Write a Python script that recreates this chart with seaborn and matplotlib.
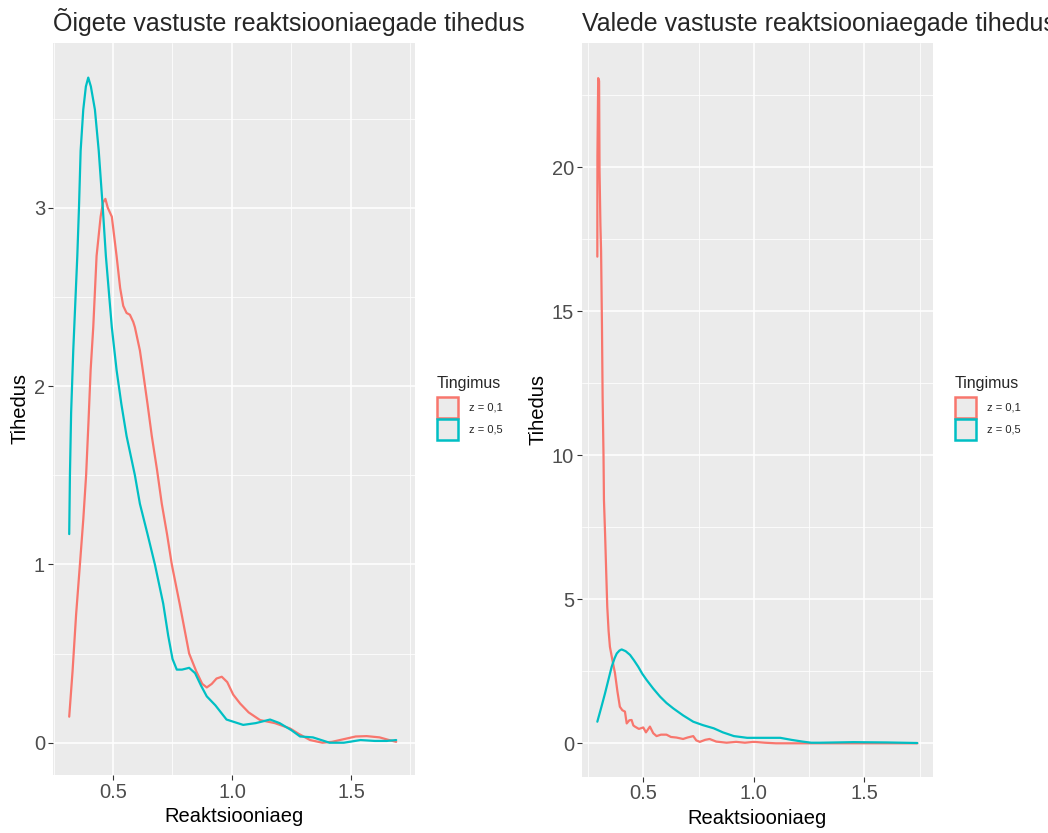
import numpy as np
import pandas as pd
import seaborn as sns
import matplotlib
matplotlib.use("Agg")
import matplotlib.pyplot as plt
from matplotlib.patches import Patch
from matplotlib.transforms import Bbox, TransformedBbox
from matplotlib.ticker import MultipleLocator

# ---- data ----
conditions = ["z = 0,1", "z = 0,5"]
colors = ["#F8766D", "#00BFC4"]

# Left panel: correct answers
ok_z01_x = [0.316, 0.33, 0.345, 0.361, 0.375, 0.387, 0.397, 0.406, 0.417, 0.431, 0.448, 0.458, 0.468,
            0.478, 0.495, 0.515, 0.53, 0.543, 0.557, 0.571, 0.585, 0.592, 0.613, 0.625, 0.645, 0.663,
            0.685, 0.705, 0.727, 0.747, 0.765, 0.78, 0.8, 0.82, 0.85, 0.875, 0.894, 0.915, 0.935,
            0.957, 0.98, 1.005, 1.034, 1.07, 1.118, 1.18, 1.244, 1.28, 1.328, 1.38, 1.42, 1.47, 1.52,
            1.566, 1.62, 1.66, 1.69]
ok_z01_y = [0.146, 0.4, 0.72, 1.0, 1.25, 1.5, 1.8, 2.09, 2.33, 2.73, 2.95, 3.03, 3.05,
            3.0, 2.95, 2.73, 2.55, 2.45, 2.41, 2.4, 2.36, 2.33, 2.2, 2.09, 1.9, 1.72,
            1.53, 1.34, 1.17, 1.0, 0.88, 0.78, 0.64, 0.5, 0.4, 0.33, 0.31, 0.33, 0.36,
            0.37, 0.34, 0.27, 0.22, 0.17, 0.127, 0.11, 0.08, 0.05, 0.015, 0.0, 0.005, 0.02, 0.035,
            0.037, 0.03, 0.015, 0.005]
ok_z05_x = [0.316, 0.319, 0.324, 0.333, 0.35, 0.357, 0.364, 0.375, 0.386, 0.396, 0.407, 0.424, 0.44,
            0.457, 0.47, 0.495, 0.515, 0.535, 0.557, 0.592, 0.613, 0.645, 0.676, 0.711, 0.732, 0.75,
            0.768, 0.79, 0.82, 0.845, 0.87, 0.894, 0.93, 0.977, 1.047, 1.1, 1.16, 1.2, 1.25, 1.286,
            1.34, 1.41, 1.47, 1.54, 1.6, 1.65, 1.69]
ok_z05_y = [1.17, 1.5, 1.85, 2.2, 2.73, 3.0, 3.32, 3.55, 3.68, 3.73, 3.68, 3.55, 3.32,
            3.0, 2.73, 2.33, 2.09, 1.9, 1.72, 1.5, 1.34, 1.17, 1.0, 0.78, 0.6, 0.47,
            0.41, 0.41, 0.42, 0.39, 0.32, 0.26, 0.21, 0.13, 0.1, 0.11, 0.13, 0.11, 0.07, 0.035,
            0.03, 0.0, 0.0, 0.015, 0.01, 0.01, 0.015]

# Right panel: wrong answers
bad_z01_x = [0.292, 0.2925, 0.296, 0.300, 0.302, 0.306, 0.309, 0.313, 0.316, 0.320, 0.322, 0.327,
             0.332, 0.337, 0.343, 0.349, 0.36, 0.372, 0.383, 0.394, 0.405, 0.417, 0.425, 0.437,
             0.447, 0.455, 0.462, 0.48, 0.5, 0.512, 0.53, 0.545, 0.56, 0.58, 0.605, 0.625, 0.65,
             0.68, 0.7, 0.726, 0.74, 0.756, 0.78, 0.8, 0.83, 0.877, 0.92, 0.96, 1.0, 1.05, 1.1,
             1.15, 1.3, 1.5, 1.74]
bad_z01_y = [16.9, 20.4, 23.1, 23.0, 19.9, 18.0, 17.1, 14.5, 12.0, 10.0, 8.45, 7.3,
             6.0, 4.74, 3.9, 3.35, 2.9, 2.43, 1.8, 1.27, 1.15, 1.1, 0.69, 0.8,
             0.81, 0.62, 0.58, 0.5, 0.55, 0.38, 0.58, 0.35, 0.25, 0.3, 0.3, 0.22, 0.2,
             0.15, 0.2, 0.25, 0.1, 0.05, 0.12, 0.15, 0.06, 0.02, 0.05, 0.02, 0.05, 0.02, 0.0,
             0.0, 0.0, 0.0, 0.0]
bad_z05_x = [0.292, 0.31, 0.327, 0.342, 0.357, 0.37, 0.38, 0.392, 0.402, 0.42, 0.44, 0.458, 0.477,
             0.495, 0.515, 0.545, 0.576, 0.605, 0.636, 0.68, 0.726, 0.77, 0.819, 0.86, 0.91, 0.97,
             1.05, 1.12, 1.17, 1.22, 1.26, 1.3, 1.45, 1.6, 1.74]
bad_z05_y = [0.75, 1.25, 1.74, 2.2, 2.66, 2.95, 3.12, 3.22, 3.26, 3.2, 3.07, 2.88, 2.66,
             2.42, 2.2, 1.9, 1.62, 1.4, 1.21, 0.97, 0.75, 0.63, 0.52, 0.38, 0.25, 0.19,
             0.19, 0.19, 0.12, 0.06, 0.02, 0.02, 0.04, 0.03, 0.01]

titles = ["Õigete vastuste reaktsiooniaegade tihedus", "Valede vastuste reaktsiooniaegade tihedus"]
xlabel = "Reaktsiooniaeg"
ylabel = "Tihedus"
legend_title = "Tingimus"


def frame(x1, y1, x2, y2):
    return pd.DataFrame({
        "x": list(x1) + list(x2),
        "y": list(y1) + list(y2),
        "Tingimus": [conditions[0]] * len(x1) + [conditions[1]] * len(x2),
    })


df_ok = frame(ok_z01_x, ok_z01_y, ok_z05_x, ok_z05_y)
df_bad = frame(bad_z01_x, bad_z01_y, bad_z05_x, bad_z05_y)

# ---- style ----
sns.set_theme(style="darkgrid", rc={
    "axes.facecolor": "#EBEBEB",
    "grid.color": "white",
    "figure.facecolor": "white",
})
plt.rcParams["font.family"] = ["Liberation Sans", "DejaVu Sans"]

W, H = 1048, 833
fig = plt.figure(figsize=(W / 100, H / 100), dpi=100)

ax1 = fig.add_axes([52.7 / W, (H - 775) / H, (415 - 52.7) / W, (775 - 43) / H])
ax2 = fig.add_axes([581.7 / W, (H - 776.7) / H, (933 - 581.7) / W, (776.7 - 43) / H])

palette = dict(zip(conditions, colors))

panels = [
    (ax1, df_ok, (0.2466, 1.769), (-0.181, 3.924), 1, 0.5),
    (ax2, df_bad, (0.2213, 1.811), (-1.16, 24.32), 5, 2.5),
]

for ax, df, xl, yl, ymaj, ymin in panels:
    sns.lineplot(data=df, x="x", y="y", hue="Tingimus", palette=palette,
                 estimator=None, sort=False, linewidth=1.6, legend=False, ax=ax)
    ax.set_xlim(*xl)
    ax.set_ylim(*yl)
    ax.xaxis.set_major_locator(MultipleLocator(0.5))
    ax.xaxis.set_minor_locator(MultipleLocator(0.25))
    ax.yaxis.set_major_locator(MultipleLocator(ymaj))
    ax.yaxis.set_minor_locator(MultipleLocator(ymin))
    ax.grid(which="major", color="white", linewidth=1.1)
    ax.grid(which="minor", color="white", linewidth=0.55)
    for s in ax.spines.values():
        s.set_visible(False)
    ax.tick_params(axis="both", which="major", length=3.5, width=0.8, color="#333333",
                   labelsize=14.5, labelcolor="#4D4D4D", pad=2, left=True, bottom=True)
    ax.tick_params(axis="both", which="minor", length=0)
    ax.set_xlabel(xlabel, fontsize=14.5, color="black", labelpad=4)
    ax.set_ylabel(ylabel, fontsize=14.5, color="black", labelpad=3)
    ax.set_axisbelow(True)

# titles (clipped like in the reference)
t1 = fig.text(52.7 / W, 1 - 31 / H, titles[0], fontsize=18, ha="left", va="baseline")
t1.set_clip_box(TransformedBbox(Bbox([[0, 0], [524 / W, 1]]), fig.transFigure))
t1.set_clip_on(True)
t2 = fig.text(581.7 / W, 1 - 31 / H, titles[1], fontsize=18, ha="left", va="baseline")

# legends
for lx in (437, 955):
    fig.text(lx / W, 1 - 388 / H, legend_title, fontsize=11.5, ha="left", va="baseline")
    handles = [Patch(facecolor="#EBEBEB", edgecolor=c, linewidth=1.8, label=l)
               for l, c in zip(conditions, colors)]
    fig.legend(handles=handles, loc="upper left",
               bbox_to_anchor=(lx / W, 1 - 397 / H), frameon=False,
               fontsize=8, handlelength=1.9, handleheight=2.5,
               handletextpad=1.0, labelspacing=0.12, borderpad=0, borderaxespad=0)

fig.savefig("out.png", dpi=100)
